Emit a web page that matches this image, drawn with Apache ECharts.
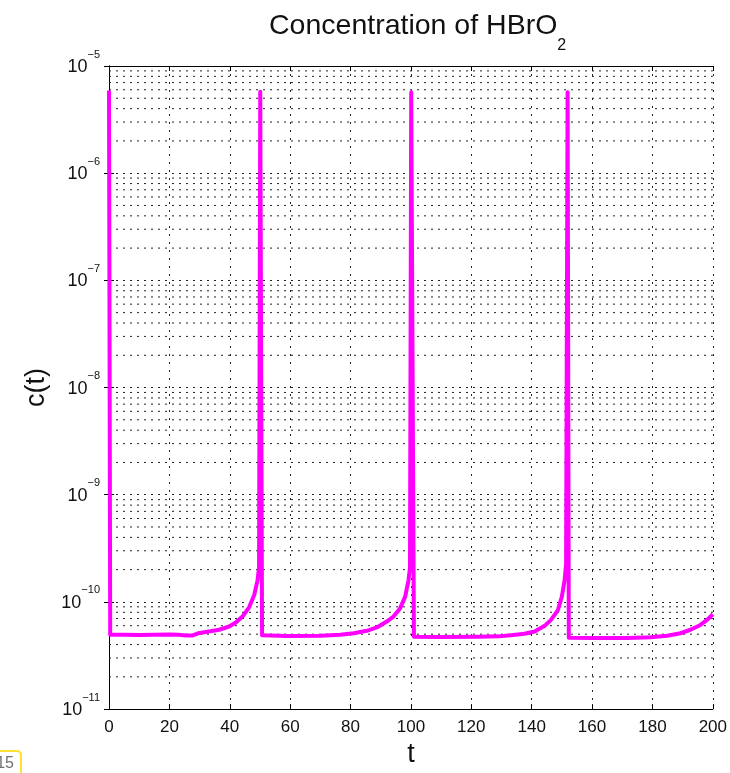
<!DOCTYPE html>
<html>
<head>
<meta charset="utf-8">
<title>Concentration of HBrO2</title>
<script src="https://cdn.jsdelivr.net/npm/echarts@6/dist/echarts.min.js"></script>
<style>
  html, body { margin: 0; padding: 0; background: #ffffff; }
  #chart { width: 730px; height: 773px; }
</style>
</head>
<body>
<div id="chart"></div>
<script>
// Time samples (t) and HBrO2 concentration c(t) for the oscillating reaction
const tValues = [
  0, 0.4, 5, 10, 15, 20, 23, 25.5, 27.5, 29.5, 32.1, 36.5, 39.8, 42, 44.2, 46.4, 48.1, 49.2, 49.7,
  50.1, 50.7, 59, 70, 76.6, 81, 85.4, 88.7, 92, 94.2, 96.4, 98.1, 99.2, 99.7,
  100.1, 101.0, 110, 122.3, 128.9, 133.2, 137.6, 141, 144.3, 146.4, 148.7, 150, 150.9, 151.4,
  151.9, 152.3, 160.7, 171.7, 179.4, 184.9, 189.3, 192.6, 195.9, 198.1, 200
];
const cValues = [
  5.9e-6, 4.95e-11, 4.93e-11, 4.92e-11, 4.93e-11, 4.96e-11, 4.94e-11, 4.86e-11, 4.86e-11, 5.1e-11, 5.25e-11, 5.5e-11, 5.9e-11, 6.43e-11, 7.3e-11, 8.9e-11, 1.16e-10, 1.59e-10, 2.1e-10,
  5.75e-6, 4.88e-11, 4.81e-11, 4.83e-11, 4.94e-11, 5.1e-11, 5.38e-11, 5.78e-11, 6.56e-11, 7.3e-11, 8.7e-11, 1.12e-10, 1.59e-10, 2.1e-10,
  5.7e-6, 4.72e-11, 4.71e-11, 4.72e-11, 4.77e-11, 4.88e-11, 5.05e-11, 5.3e-11, 5.98e-11, 6.8e-11, 8.4e-11, 1.12e-10, 1.59e-10, 2.26e-10,
  5.7e-6, 4.63e-11, 4.6e-11, 4.6e-11, 4.68e-11, 4.83e-11, 5.1e-11, 5.5e-11, 6.1e-11, 6.8e-11, 7.67e-11
];

// Axis ranges: linear time axis, log concentration axis spanning decades
const xMin = 0, xMax = 200, xStep = 20;
const yMinExp = -11, yMaxExp = -5;

// Intermediate log gridline values (2..9 times each decade)
const minorGridValues = [];
for (let e = yMinExp; e < yMaxExp; e++) {
  for (let m = 2; m <= 9; m++) minorGridValues.push(m * Math.pow(10, e));
}

const seriesData = tValues.map((t, i) => [t, cValues[i]]);

const gridColor = '#222';
const dotted = [2, 5];
const fontFamily = 'Liberation Sans';

function expLabel(v) {
  const e = Math.round(Math.log10(v));
  return '{b|10}{s|' + (e < 0 ? '\u2212' + (-e) : e) + '}';
}

const chart = echarts.init(document.getElementById('chart'), null, { renderer: 'canvas' });

const yAxisBase = {
  type: 'log',
  logBase: 10,
  min: Math.pow(10, yMinExp),
  max: Math.pow(10, yMaxExp),
  splitNumber: yMaxExp - yMinExp,
  axisLine: { show: true, lineStyle: { color: '#000', width: 1 } },
  axisTick: { show: true, inside: true, length: 5, lineStyle: { color: '#000' } },
  splitLine: { show: false }
};

chart.setOption({
  animation: false,
  backgroundColor: '#ffffff',
  title: {
    text: '{m|Concentration of HBrO}{s|2}',
    left: 269,
    top: 12,
    padding: 0,
    textStyle: {
      fontWeight: 'normal',
      rich: {
        m: { fontFamily: fontFamily, fontWeight: 'normal', fontSize: 28.5, color: '#111', lineHeight: 32, verticalAlign: 'top' },
        s: { fontFamily: fontFamily, fontWeight: 'normal', fontSize: 16, color: '#111', lineHeight: 18, padding: [36, 0, 0, 0] }
      }
    }
  },
  grid: { left: 109, right: 14, top: 66, bottom: 56, containLabel: false },
  xAxis: [
    {
      type: 'value',
      min: xMin, max: xMax, interval: xStep,
      position: 'bottom',
      name: 't',
      nameLocation: 'middle',
      nameGap: 29,
      nameTextStyle: { fontFamily: fontFamily, fontSize: 27, color: '#111' },
      axisLine: { show: true, onZero: false, lineStyle: { color: '#000', width: 1 } },
      axisTick: { show: true, inside: true, length: 5, lineStyle: { color: '#000' } },
      axisLabel: { fontFamily: fontFamily, fontSize: 17, color: '#111', margin: 10 },
      splitLine: { show: true, lineStyle: { color: gridColor, type: [2, 6], width: 1 } }
    },
    {
      type: 'value',
      min: xMin, max: xMax, interval: xStep,
      position: 'top',
      axisLine: { show: true, onZero: false, lineStyle: { color: '#000', width: 1 } },
      axisTick: { show: true, inside: true, length: 5, lineStyle: { color: '#000' } },
      axisLabel: { show: false },
      splitLine: { show: false }
    }
  ],
  yAxis: [
    Object.assign({}, yAxisBase, {
      position: 'left',
      name: 'c(t)',
      nameLocation: 'middle',
      nameGap: 45,
      nameTextStyle: { fontFamily: fontFamily, fontSize: 27, color: '#111' },
      splitLine: { show: true, lineStyle: { color: gridColor, type: dotted, width: 1 } },
      axisLabel: {
        margin: 9,
        formatter: expLabel,
        rich: {
          b: { fontFamily: fontFamily, fontSize: 18, color: '#111', lineHeight: 20, verticalAlign: 'bottom' },
          s: { fontFamily: fontFamily, fontSize: 11, color: '#111', lineHeight: 12, padding: [0, 0, 16, 0], verticalAlign: 'bottom' }
        }
      }
    }),
    Object.assign({}, yAxisBase, {
      position: 'right',
      axisLabel: { show: false }
    })
  ],
  series: [
    {
      // minor decade gridlines (2..9 x 10^n), drawn across the full time range
      type: 'custom',
      xAxisIndex: 0,
      yAxisIndex: 0,
      silent: true,
      z: 1,
      data: minorGridValues.map(v => [xMin, v]),
      encode: { x: 0, y: 1 },
      renderItem: function (params, api) {
        const v = api.value(1);
        const p0 = api.coord([xMin, v]);
        const p1 = api.coord([xMax, v]);
        return {
          type: 'line',
          shape: { x1: p0[0], y1: p0[1], x2: p1[0], y2: p1[1] },
          style: { stroke: gridColor, lineWidth: 1, lineDash: dotted, fill: null }
        };
      }
    },
    {
      name: 'c(t)',
      type: 'line',
      xAxisIndex: 0,
      yAxisIndex: 0,
      data: seriesData,
      showSymbol: false,
      smooth: false,
      lineStyle: { color: '#ff00ff', width: 4, join: 'round' },
      itemStyle: { color: '#ff00ff' },
      z: 5
    }
  ],
  graphic: [
    {
      type: 'rect',
      shape: { x: -10, y: 751, width: 31, height: 30, r: 4 },
      style: { fill: 'none', stroke: '#ffe033', lineWidth: 2 },
      silent: true
    },
    {
      type: 'text',
      x: 14,
      y: 764,
      style: {
        text: '15', fontFamily: fontFamily, fontSize: 16, fill: '#707070',
        textAlign: 'right', textVerticalAlign: 'middle'
      },
      silent: true
    }
  ]
});
</script>
</body>
</html>
